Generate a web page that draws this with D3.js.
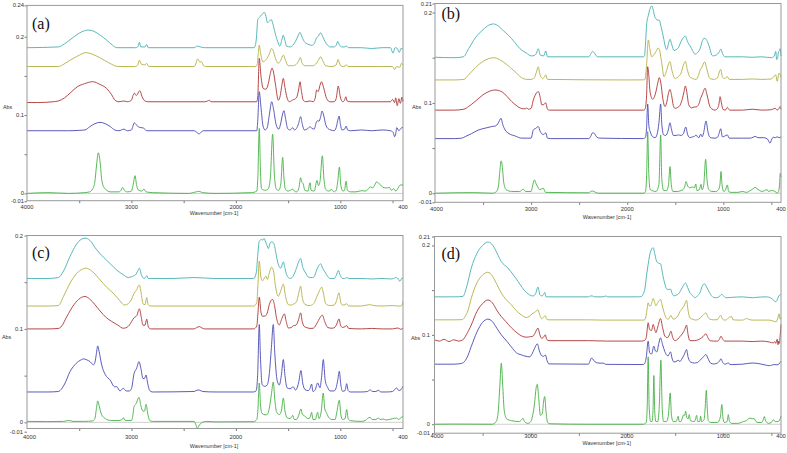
<!DOCTYPE html>
<html><head><meta charset="utf-8">
<script src="https://cdn.jsdelivr.net/npm/d3@7"></script>
<style>body{margin:0;background:#fff}svg{display:block}</style>
</head><body>
<svg id="c" width="787" height="453"></svg>
<script>
// ---------- data ----------
const panelNames = ['(a)','(b)','(c)','(d)'];
const wavenumberLabels = [4000,3000,2000,1000,400];
const wavenumberTicks = [3500,3000,2500,2000,1500,1000,500];
const yTickSets = [[-0.01,0,0.1,0.2,0.24],[-0.01,0,0.1,0.2,0.21],[-0.01,0,0.1,0.2],[-0.01,0,0.1,0.2,0.21]];
const yMinorTicks = [0.05,0.15];
const seriesNames = ['teal','olive','red','blue','green'];

const A_teal=[[4000,.186],[3700,.187],[3640,.191],[3560,.199],[3480,.206],[3415,.2085],[3360,.207],[3300,.202],[3240,.196],[3180,.189],[3140,.186],[2960,.186],[2935,.188],[2924,.193],[2910,.187],[2870,.187],[2854,.190],[2840,.186],[2400,.186],[2370,.188],[2340,.187],[2300,.186],[1825,.186],[1805,.196],[1790,.222],[1765,.226],[1740,.230],[1728,.231],[1712,.226],[1698,.218],[1678,.220],[1662,.222],[1645,.216],[1625,.205],[1600,.194],[1580,.188],[1560,.196],[1547,.202],[1532,.196],[1515,.188],[1480,.187],[1455,.189],[1430,.194],[1405,.201],[1387,.2056],[1365,.199],[1340,.193],[1300,.19],[1270,.189],[1250,.191],[1233,.197],[1210,.201],[1188,.205],[1168,.200],[1147,.194],[1120,.189],[1100,.187],[1060,.187],[1040,.189],[1025,.194],[1010,.190],[988,.187],[960,.187],[940,.188],[920,.186],[800,.186],[700,.185],[600,.186],[520,.186],[496,.179],[475,.186],[455,.185],[435,.18],[420,.185],[400,.184]];
const A_olive=[[4000,.162],[3700,.162],[3660,.164],[3600,.169],[3520,.175],[3435,.1797],[3380,.178],[3300,.173],[3220,.167],[3160,.163],[3130,.162],[2960,.162],[2940,.164],[2924,.170],[2905,.165],[2870,.164],[2854,.166],[2835,.162],[2400,.162],[2385,.165],[2366,.1716],[2345,.168],[2328,.168],[2310,.163],[2290,.162],[1810,.162],[1795,.165],[1785,.18],[1776,.1894],[1765,.18],[1740,.168],[1710,.171],[1680,.178],[1660,.185],[1645,.183],[1620,.172],[1595,.166],[1570,.170],[1546,.1766],[1525,.170],[1500,.163],[1460,.163],[1420,.165],[1400,.169],[1383,.1737],[1365,.166],[1340,.163],[1260,.163],[1230,.166],[1210,.170],[1188,.1745],[1170,.170],[1140,.163],[1080,.162],[1040,.164],[1022,.171],[1005,.165],[985,.162],[950,.163],[939,.164],[925,.162],[600,.162],[500,.162],[480,.158],[460,.162],[430,.161],[415,.166],[400,.164]];
const A_red=[[4000,.116],[3900,.116],[3750,.117],[3700,.118],[3640,.122],[3580,.129],[3520,.136],[3450,.140],[3371,.1426],[3300,.139],[3237,.134],[3190,.126],[3157,.119],[3120,.117],[3071,.118],[3040,.117],[3000,.119],[2985,.125],[2972,.128],[2955,.125],[2944,.126],[2930,.130],[2918,.131],[2900,.124],[2870,.118],[2840,.117],[2300,.117],[2270,.118],[2254,.119],[2240,.117],[1800,.117],[1790,.125],[1776,.1724],[1760,.150],[1738,.134],[1712,.133],[1690,.140],[1672,.152],[1654,.160],[1640,.155],[1620,.138],[1594,.119],[1575,.125],[1560,.138],[1546,.1469],[1530,.135],[1510,.122],[1488,.117],[1460,.119],[1420,.122],[1400,.132],[1386,.1425],[1372,.130],[1355,.119],[1330,.117],[1290,.118],[1260,.117],[1240,.122],[1227,.132],[1212,.130],[1195,.138],[1180,.1425],[1160,.135],[1131,.121],[1100,.117],[1060,.117],[1040,.121],[1020,.137],[1000,.123],[978,.117],[960,.119],[947,.1234],[935,.118],[900,.117],[600,.117],[520,.117],[500,.12],[480,.116],[470,.122],[455,.112],[440,.121],[425,.115],[410,.123],[400,.117]];
const A_blue=[[4000,.08],[3800,.08],[3600,.08],[3500,.0805],[3445,.081],[3400,.085],[3350,.089],[3301,.0907],[3250,.089],[3200,.085],[3160,.081],[3120,.08],[3071,.082],[3040,.08],[3000,.081],[2972,.090],[2955,.088],[2935,.085],[2910,.084],[2886,.0835],[2865,.081],[2850,.08],[2400,.08],[2370,.0775],[2353,.0758],[2335,.078],[2310,.08],[1800,.08],[1792,.09],[1776,.1298],[1760,.11],[1740,.086],[1720,.081],[1700,.084],[1680,.100],[1657,.117],[1640,.108],[1615,.088],[1590,.082],[1570,.090],[1555,.100],[1540,.1056],[1525,.096],[1505,.083],[1485,.081],[1470,.082],[1456,.084],[1440,.081],[1420,.083],[1400,.089],[1380,.098],[1365,.089],[1345,.081],[1320,.082],[1290,.085],[1270,.083],[1250,.082],[1232,.090],[1219,.0928],[1205,.092],[1190,.097],[1175,.1052],[1160,.100],[1140,.088],[1120,.083],[1090,.081],[1060,.08],[1040,.084],[1025,.093],[1012,.0988],[1000,.089],[985,.081],[960,.082],[945,.086],[930,.081],[900,.08],[800,.081],[700,.08],[600,.081],[520,.08],[495,.078],[480,.0724],[470,.076],[460,.084],[440,.08],[420,.083],[400,.0845]];
const A_green=[[4000,0],[3800,.001],[3600,0],[3450,.001],[3400,.002],[3370,.006],[3350,.015],[3335,.035],[3317,.0519],[3300,.040],[3285,.018],[3260,.007],[3200,.002],[3120,.002],[3100,.004],[3084,.0077],[3068,.004],[3040,.002],[3000,.003],[2985,.01],[2966,.0226],[2950,.01],[2930,.004],[2900,.003],[2880,.0055],[2860,.002],[2800,.001],[2450,0],[2380,.002],[2350,.0026],[2320,.001],[2200,0],[1850,.001],[1800,.003],[1790,.02],[1776,.083],[1765,.03],[1755,.006],[1720,.004],[1690,.006],[1670,.02],[1648,.0757],[1630,.02],[1610,.005],[1590,.004],[1570,.012],[1552,.046],[1540,.02],[1525,.005],[1500,.003],[1478,.004],[1456,.0055],[1440,.003],[1420,.002],[1398,.006],[1380,.02],[1370,.015],[1355,.012],[1340,.004],[1310,.003],[1290,.0136],[1280,.004],[1250,.003],[1223,.0166],[1210,.01],[1195,.015],[1172,.048],[1158,.02],[1140,.005],[1110,.003],[1083,.005],[1060,.002],[1040,.004],[1025,.015],[1009,.0336],[995,.01],[975,.003],[960,.004],[945,.0157],[932,.004],[900,.002],[850,.002],[796,.0035],[760,.003],[730,.006],[715,.0085],[690,.007],[670,.011],[652,.0149],[635,.013],[615,.011],[595,.008],[560,.007],[530,.0075],[510,.004],[490,.006],[470,.003],[450,.006],[428,.0106],[400,.011]];

const B_teal=[[4000,.1505],[3800,.150],[3705,.151],[3650,.160],[3580,.172],[3500,.181],[3440,.186],[3393,.1874],[3340,.185],[3290,.180],[3237,.175],[3170,.167],[3116,.160],[3046,.155],[3000,.152],[2965,.1525],[2945,.155],[2925,.160],[2905,.153],[2870,.152],[2848,.1575],[2830,.151],[2400,.151],[2375,.155],[2360,.157],[2340,.155],[2310,.151],[1830,.151],[1820,.152],[1810,.165],[1797,.188],[1780,.197],[1760,.205],[1745,.2073],[1730,.203],[1715,.196],[1700,.193],[1685,.1915],[1669,.1918],[1645,.183],[1624,.173],[1605,.163],[1589,.159],[1570,.166],[1555,.1704],[1535,.164],[1513,.158],[1490,.159],[1468,.161],[1440,.168],[1410,.173],[1395,.174],[1370,.167],[1346,.163],[1320,.158],[1294,.154],[1265,.156],[1242,.160],[1220,.168],[1201,.1715],[1185,.171],[1166,.168],[1140,.160],[1121,.153],[1105,.152],[1086,.1525],[1060,.154],[1040,.157],[1027,.1596],[1010,.155],[982,.151],[950,.151],[900,.151],[800,.151],[700,.1505],[600,.151],[500,.150],[470,.152],[455,.157],[445,.148],[438,.1485],[425,.157],[415,.158],[410,.16],[400,.152]];
const B_olive=[[4000,.1254],[3800,.1254],[3700,.126],[3650,.131],[3580,.139],[3500,.146],[3440,.149],[3393,.150],[3330,.148],[3260,.143],[3168,.1346],[3100,.128],[3046,.126],[3000,.126],[2965,.128],[2945,.134],[2925,.140],[2910,.132],[2880,.127],[2860,.129],[2848,.131],[2830,.126],[2000,.1254],[1830,.1255],[1815,.126],[1800,.140],[1780,.1697],[1765,.160],[1745,.151],[1725,.153],[1700,.157],[1680,.1605],[1669,.160],[1645,.147],[1617,.129],[1590,.136],[1570,.143],[1555,.1457],[1535,.136],[1502,.127],[1470,.129],[1440,.133],[1415,.142],[1395,.146],[1375,.137],[1350,.129],[1320,.127],[1284,.126],[1260,.130],[1242,.1363],[1225,.139],[1194,.1454],[1175,.139],[1150,.129],[1138,.127],[1100,.126],[1060,.128],[1045,.133],[1027,.137],[1010,.129],[990,.127],[958,.129],[940,.126],[800,.126],[700,.1265],[600,.126],[500,.1265],[455,.131],[440,.124],[420,.133],[400,.128]];
const B_red=[[4000,.092],[3800,.092],[3700,.093],[3650,.096],[3584,.1015],[3500,.109],[3430,.113],[3376,.1143],[3300,.112],[3202,.1015],[3140,.096],[3081,.0935],[3060,.0935],[3045,.0945],[3029,.093],[3000,.094],[2977,.1033],[2960,.108],[2925,.1125],[2905,.106],[2890,.098],[2870,.098],[2848,.1003],[2830,.093],[2810,.092],[1830,.092],[1815,.093],[1800,.105],[1787,.140],[1775,.13],[1762,.112],[1735,.104],[1720,.106],[1700,.113],[1680,.123],[1666,.128],[1650,.122],[1630,.105],[1607,.096],[1590,.100],[1572,.110],[1555,.115],[1538,.108],[1520,.097],[1502,.094],[1475,.095],[1450,.0975],[1425,.105],[1410,.112],[1395,.1187],[1380,.112],[1360,.098],[1330,.0945],[1300,.0955],[1284,.0955],[1265,.097],[1250,.1],[1242,.1033],[1220,.109],[1190,.1162],[1170,.109],[1140,.096],[1121,.0935],[1086,.092],[1060,.094],[1045,.099],[1034,.1069],[1020,.100],[1005,.093],[980,.092],[958,.095],[945,.093],[930,.092],[800,.092],[700,.093],[600,.092],[500,.0925],[460,.094],[440,.092],[420,.094],[410,.096],[400,.093]];
const B_blue=[[4000,.0605],[3800,.0605],[3722,.061],[3680,.063],[3620,.066],[3549,.070],[3480,.072],[3410,.0738],[3370,.0745],[3345,.077],[3313,.083],[3295,.076],[3270,.070],[3230,.066],[3168,.0635],[3100,.061],[3046,.061],[3000,.061],[2977,.070],[2950,.072],[2925,.0738],[2905,.0685],[2890,.066],[2870,.065],[2848,.067],[2830,.061],[2800,.0605],[2400,.0605],[2380,.063],[2360,.067],[2340,.066],[2320,.0625],[2290,.061],[1830,.0605],[1810,.062],[1800,.07],[1787,.0988],[1775,.075],[1760,.068],[1735,.0625],[1710,.0615],[1690,.065],[1670,.078],[1652,.0988],[1640,.076],[1620,.0645],[1600,.064],[1575,.069],[1555,.078],[1540,.071],[1520,.064],[1490,.064],[1468,.0646],[1440,.064],[1415,.066],[1391,.0733],[1370,.0645],[1345,.0615],[1320,.0625],[1300,.063],[1284,.0646],[1270,.0625],[1255,.0615],[1235,.0655],[1220,.0625],[1205,.067],[1180,.080],[1160,.068],[1140,.062],[1121,.0612],[1086,.061],[1060,.062],[1045,.066],[1027,.0714],[1010,.0625],[990,.063],[958,.0646],[940,.061],[900,.061],[800,.061],[720,.061],[690,.062],[670,.063],[640,.0615],[580,.0615],[540,.060],[530,.058],[514,.0555],[500,.059],[480,.062],[460,.0615],[440,.0625],[420,.0615],[400,.0625]];
const B_green=[[4000,0],[3800,.0005],[3600,.0007],[3400,0],[3360,.002],[3340,.008],[3325,.025],[3313,.0358],[3300,.03],[3285,.012],[3260,.004],[3200,.002],[3120,.002],[3081,.0045],[3060,.002],[3000,.002],[2985,.008],[2966,.0148],[2950,.011],[2935,.008],[2910,.004],[2873,.0055],[2850,.001],[2400,.0005],[2380,.002],[2360,.0025],[2330,.001],[2300,0],[1830,0],[1810,.002],[1798,.02],[1787,.0682],[1775,.02],[1760,.004],[1700,.002],[1670,.01],[1652,.0645],[1640,.015],[1620,.003],[1590,.003],[1570,.01],[1555,.0295],[1542,.01],[1525,.002],[1480,.002],[1440,.003],[1420,.004],[1400,.008],[1388,.0129],[1370,.008],[1350,.006],[1320,.007],[1300,.006],[1287,.0103],[1275,.003],[1250,.004],[1232,.0099],[1222,.004],[1205,.008],[1184,.0376],[1170,.015],[1150,.004],[1120,.002],[1080,.002],[1050,.004],[1035,.01],[1024,.024],[1012,.008],[995,.002],[980,.003],[958,.0092],[945,.002],[920,.001],[850,.001],[800,.002],[760,.001],[720,.003],[690,.005],[670,.0066],[650,.005],[620,.003],[600,.002],[570,.003],[545,.004],[530,.002],[500,.003],[460,.002],[440,0],[425,.002],[415,.01],[408,.022],[400,.018]];

const C_teal=[[4000,.154],[3800,.154],[3700,.155],[3650,.162],[3588,.1776],[3530,.190],[3480,.196],[3445,.1972],[3400,.195],[3333,.1847],[3270,.177],[3205,.170],[3140,.163],[3078,.158],[3030,.155],[2998,.156],[2960,.158],[2940,.162],[2924,.165],[2905,.158],[2880,.154],[2860,.156],[2854,.157],[2840,.154],[2600,.154],[2400,.155],[2200,.154],[1830,.154],[1805,.160],[1790,.180],[1776,.194],[1753,.1958],[1742,.195],[1731,.1969],[1715,.193],[1705,.1904],[1689,.186],[1672,.192],[1658,.1933],[1635,.191],[1615,.180],[1594,.169],[1570,.165],[1546,.1718],[1530,.165],[1514,.158],[1482,.154],[1455,.156],[1420,.165],[1395,.173],[1380,.1754],[1360,.166],[1338,.161],[1297,.155],[1265,.155],[1250,.156],[1227,.163],[1205,.168],[1188,.1697],[1170,.165],[1147,.161],[1120,.156],[1099,.154],[1060,.154],[1040,.157],[1019,.1626],[1000,.157],[978,.154],[960,.154],[939,.155],[920,.154],[800,.154],[700,.1535],[600,.154],[520,.1535],[490,.154],[470,.155],[455,.1545],[429,.151],[410,.1545],[400,.154]];
const C_olive=[[4000,.1245],[3800,.1245],[3700,.125],[3650,.135],[3588,.149],[3520,.160],[3470,.164],[3435,.165],[3380,.162],[3301,.1526],[3240,.145],[3173,.138],[3110,.130],[3078,.126],[3071,.1255],[3050,.126],[3020,.128],[2998,.132],[2975,.138],[2950,.142],[2924,.147],[2905,.137],[2890,.127],[2870,.126],[2854,.1336],[2840,.126],[2820,.1245],[1830,.1245],[1800,.128],[1790,.145],[1776,.1726],[1760,.155],[1745,.1515],[1735,.153],[1712,.1565],[1698,.153],[1680,.160],[1658,.166],[1640,.162],[1620,.145],[1594,.135],[1570,.141],[1546,.148],[1525,.135],[1498,.126],[1470,.1255],[1450,.1265],[1420,.129],[1395,.140],[1380,.1458],[1365,.134],[1340,.1265],[1300,.125],[1275,.1255],[1250,.128],[1227,.134],[1200,.141],[1179,.1447],[1165,.140],[1140,.127],[1100,.125],[1060,.1255],[1040,.129],[1013,.1386],[995,.128],[978,.1255],[955,.126],[939,.127],[920,.1245],[800,.1245],[720,.126],[680,.125],[600,.1245],[500,.125],[450,.1245],[420,.1245],[405,.127],[400,.129]];
const C_red=[[4000,.100],[3800,.100],[3700,.1005],[3668,.103],[3620,.113],[3550,.126],[3490,.133],[3445,.1347],[3400,.132],[3350,.126],[3301,.1193],[3240,.112],[3189,.108],[3130,.104],[3078,.1007],[3040,.102],[3020,.104],[2998,.108],[2975,.112],[2950,.114],[2924,.1215],[2905,.112],[2890,.104],[2870,.104],[2854,.1104],[2840,.103],[2820,.1],[2400,.1],[2375,.1015],[2350,.1025],[2325,.101],[2300,.1],[1830,.1],[1800,.103],[1790,.115],[1776,.134],[1760,.118],[1745,.1135],[1720,.1138],[1700,.117],[1680,.126],[1660,.131],[1648,.1315],[1630,.125],[1610,.111],[1584,.1043],[1560,.111],[1536,.1161],[1518,.108],[1498,.101],[1470,.1015],[1450,.1035],[1425,.104],[1400,.110],[1380,.1172],[1365,.108],[1345,.1025],[1310,.101],[1290,.1005],[1260,.1007],[1240,.103],[1220,.1068],[1200,.111],[1172,.1147],[1150,.108],[1120,.1015],[1080,.1007],[1050,.102],[1035,.105],[1013,.1107],[995,.103],[978,.1015],[955,.1025],[939,.1035],[920,.1005],[800,.1],[700,.1005],[600,.1],[500,.1],[450,.101],[420,.0995],[400,.101]];
const C_blue=[[4000,.0325],[3800,.0325],[3700,.033],[3684,.034],[3640,.041],[3588,.0543],[3530,.063],[3480,.067],[3461,.0679],[3430,.067],[3397,.065],[3380,.063],[3365,.0615],[3350,.064],[3335,.074],[3323,.0818],[3310,.076],[3285,.0615],[3250,.051],[3205,.0454],[3160,.038],[3141,.0382],[3110,.0336],[3078,.0364],[3050,.0336],[3020,.0336],[3000,.036],[2975,.0522],[2950,.058],[2928,.065],[2910,.058],[2890,.047],[2875,.047],[2860,.0507],[2845,.042],[2825,.034],[2800,.0325],[2400,.033],[2370,.0345],[2350,.0345],[2320,.033],[2200,.0325],[1830,.0325],[1805,.034],[1792,.05],[1776,.1047],[1765,.07],[1748,.0402],[1720,.0385],[1700,.040],[1680,.052],[1660,.08],[1642,.1047],[1628,.075],[1605,.045],[1584,.040],[1565,.050],[1546,.0672],[1530,.050],[1510,.037],[1482,.036],[1460,.0375],[1450,.038],[1430,.0345],[1400,.042],[1377,.0554],[1360,.042],[1338,.035],[1310,.034],[1290,.036],[1275,.041],[1262,.033],[1240,.035],[1217,.0422],[1195,.037],[1180,.048],[1163,.0672],[1145,.045],[1120,.037],[1099,.0336],[1060,.0336],[1040,.037],[1025,.045],[1010,.0547],[995,.040],[978,.0332],[955,.034],[939,.0414],[925,.034],[905,.0325],[800,.0325],[740,.033],[716,.0347],[690,.033],[660,.033],[636,.0343],[610,.0325],[560,.0325],[500,.033],[461,.0368],[440,.034],[420,.035],[400,.0386]];
const C_green=[[4000,.001],[3800,.0008],[3650,.001],[3600,.002],[3560,.001],[3450,.001],[3370,.0015],[3350,.004],[3335,.015],[3323,.0229],[3310,.018],[3285,.008],[3250,.004],[3200,.002],[3120,.002],[3090,.003],[3078,.005],[3060,.002],[3000,.002],[2990,.005],[2975,.0168],[2955,.020],[2928,.0268],[2910,.018],[2890,.012],[2875,.012],[2860,.0193],[2845,.010],[2825,.002],[2800,.001],[2400,.001],[2385,-.002],[2369,-.0064],[2355,-.004],[2340,-.0015],[2320,0],[2280,.001],[2200,.0005],[1830,.0007],[1800,.003],[1790,.012],[1776,.042],[1765,.02],[1750,.0096],[1720,.008],[1700,.0085],[1680,.015],[1660,.03],[1642,.0432],[1628,.025],[1610,.011],[1584,.0083],[1565,.012],[1546,.026],[1530,.012],[1510,.005],[1482,.004],[1465,.006],[1456,.0075],[1440,.003],[1420,.003],[1400,.007],[1377,.0143],[1365,.009],[1338,.0064],[1310,.004],[1290,.005],[1275,.0107],[1262,.003],[1240,.003],[1217,.0107],[1205,.004],[1185,.01],[1163,.0314],[1150,.015],[1130,.0096],[1110,.005],[1080,.003],[1050,.003],[1035,.01],[1010,.0236],[995,.008],[978,.003],[955,.004],[939,.0136],[925,.004],[905,.0018],[800,.001],[760,.002],[740,.004],[716,.0054],[695,.003],[660,.003],[636,.0046],[620,.003],[590,.0035],[560,.0025],[500,.004],[461,.0046],[440,.003],[420,.005],[400,.0064]];

const D_teal=[[4000,.1425],[3800,.1425],[3705,.143],[3670,.152],[3618,.1747],[3560,.191],[3500,.200],[3445,.2038],[3410,.202],[3376,.197],[3340,.189],[3306,.182],[3237,.1747],[3180,.167],[3133,.160],[3090,.153],[3046,.1475],[2977,.1435],[2950,.146],[2925,.1534],[2905,.145],[2885,.1435],[2867,.145],[2855,.1474],[2840,.1425],[2400,.1425],[2380,.1435],[2360,.1435],[2340,.1425],[2250,.1425],[2220,.1435],[2200,.1425],[1880,.1425],[1849,.143],[1830,.146],[1815,.151],[1795,.168],[1780,.179],[1756,.193],[1728,.1975],[1710,.190],[1693,.1825],[1670,.180],[1652,.1795],[1630,.168],[1607,.157],[1585,.151],[1572,.1508],[1560,.151],[1548,.1512],[1530,.146],[1513,.1435],[1490,.1445],[1468,.1455],[1440,.150],[1415,.155],[1391,.158],[1370,.153],[1346,.147],[1320,.144],[1294,.1415],[1265,.144],[1242,.147],[1220,.154],[1197,.1571],[1178,.1545],[1156,.150],[1130,.145],[1104,.142],[1070,.1415],[1040,.143],[1017,.1452],[995,.1435],[975,.1415],[900,.142],[800,.1425],[700,.1415],[650,.142],[560,.1425],[520,.142],[490,.140],[470,.138],[455,.137],[440,.139],[430,.142],[415,.1445],[400,.1455]];
const D_olive=[[4000,.1168],[3800,.1168],[3710,.117],[3688,.1195],[3650,.128],[3618,.141],[3560,.158],[3500,.167],[3445,.170],[3400,.166],[3350,.156],[3306,.1467],[3260,.140],[3202,.1336],[3150,.127],[3098,.1224],[3046,.1194],[3018,.1205],[3000,.122],[2985,.1235],[2960,.125],[2925,.128],[2905,.122],[2885,.118],[2870,.1195],[2848,.1213],[2835,.1175],[2810,.1168],[2400,.1168],[2250,.1165],[1830,.1165],[1815,.117],[1804,.120],[1790,.130],[1780,.1359],[1765,.132],[1750,.1332],[1728,.1407],[1712,.136],[1700,.1325],[1680,.136],[1652,.1396],[1630,.131],[1607,.1224],[1585,.118],[1572,.1175],[1560,.119],[1544,.1217],[1525,.118],[1513,.1175],[1490,.119],[1468,.1217],[1450,.126],[1433,.1285],[1409,.132],[1381,.1385],[1365,.127],[1346,.119],[1320,.1175],[1285,.1165],[1250,.118],[1210,.122],[1180,.1247],[1160,.120],[1138,.1175],[1100,.1168],[1060,.117],[1045,.1195],[1027,.122],[1010,.118],[985,.1165],[965,.117],[946,.119],[928,.12],[913,.1205],[900,.117],[850,.1165],[800,.1165],[757,.1183],[740,.1175],[700,.1165],[600,.1165],[520,.1165],[470,.115],[450,.1145],[430,.12],[420,.1235],[410,.1175],[400,.1195]];
const D_red=[[4000,.0945],[3950,.093],[3900,.095],[3850,.0925],[3800,.0945],[3750,.093],[3705,.0945],[3670,.100],[3618,.111],[3560,.126],[3500,.135],[3445,.139],[3400,.136],[3350,.127],[3306,.1205],[3260,.115],[3202,.108],[3140,.102],[3100,.099],[3046,.0974],[3000,.098],[2977,.0985],[2960,.101],[2925,.1075],[2905,.100],[2885,.096],[2870,.097],[2848,.100],[2835,.095],[2810,.0935],[2400,.0935],[2200,.093],[1850,.093],[1815,.094],[1800,.097],[1780,.1135],[1765,.106],[1745,.105],[1728,.1116],[1712,.106],[1700,.1025],[1680,.109],[1652,.1183],[1630,.108],[1607,.0986],[1585,.097],[1572,.0975],[1560,.100],[1544,.1041],[1525,.097],[1500,.0935],[1470,.0955],[1450,.098],[1420,.102],[1400,.106],[1381,.1109],[1365,.100],[1346,.0935],[1300,.0935],[1250,.095],[1210,.098],[1180,.1012],[1160,.097],[1138,.0935],[1100,.093],[1060,.093],[1040,.095],[1024,.0985],[1005,.095],[985,.093],[900,.093],[800,.093],[700,.0925],[600,.093],[520,.092],[480,.091],[465,.0925],[455,.0905],[440,.095],[430,.089],[425,.093],[417,.0905],[408,.1],[400,.1116]];
const D_blue=[[4000,.0672],[3800,.0672],[3722,.068],[3700,.069],[3660,.075],[3618,.087],[3560,.103],[3500,.114],[3445,.1176],[3400,.115],[3350,.107],[3306,.100],[3250,.093],[3202,.0866],[3150,.080],[3098,.0776],[3050,.076],[3011,.0754],[2990,.078],[2960,.085],[2932,.090],[2910,.082],[2885,.0765],[2865,.076],[2848,.0776],[2830,.071],[2810,.0675],[2400,.0672],[2390,.069],[2370,.074],[2355,.073],[2335,.070],[2300,.0685],[2266,.0683],[2250,.0685],[2220,.067],[1830,.0668],[1812,.069],[1800,.075],[1780,.093],[1765,.080],[1745,.0785],[1721,.0873],[1705,.082],[1690,.081],[1670,.090],[1652,.0967],[1630,.089],[1607,.0814],[1585,.077],[1572,.0765],[1560,.079],[1548,.081],[1530,.073],[1513,.0697],[1490,.0702],[1468,.0716],[1450,.0702],[1430,.073],[1405,.078],[1381,.0836],[1365,.075],[1340,.0697],[1300,.0685],[1270,.069],[1240,.0717],[1210,.075],[1180,.078],[1160,.074],[1133,.0685],[1100,.0674],[1060,.0685],[1040,.0705],[1024,.0732],[1005,.069],[980,.0672],[960,.068],[947,.0687],[930,.0668],[900,.0668],[800,.0672],[700,.0685],[640,.068],[560,.0662],[520,.0655],[500,.066],[470,.0668],[440,.0665],[420,.0675],[400,.0705]];
const D_green=[[4000,0],[3800,.0002],[3400,0],[3360,.003],[3340,.012],[3320,.045],[3306,.0683],[3292,.045],[3275,.015],[3250,.006],[3200,.004],[3120,.003],[3095,.005],[3081,.0067],[3065,.003],[3030,.001],[3000,.003],[2980,.01],[2960,.024],[2945,.04],[2932,.0448],[2918,.03],[2900,.01],[2880,.012],[2867,.025],[2855,.031],[2842,.015],[2825,.002],[2800,.0005],[2400,0],[1830,0],[1800,.002],[1790,.02],[1780,.0754],[1770,.02],[1755,.003],[1740,.003],[1730,.015],[1721,.0545],[1712,.015],[1700,.003],[1680,.003],[1665,.02],[1648,.0717],[1635,.02],[1620,.003],[1590,.003],[1570,.01],[1551,.035],[1538,.01],[1520,.003],[1490,.003],[1478,.006],[1468,.009],[1458,.003],[1440,.003],[1425,.007],[1409,.0108],[1400,.01],[1391,.0146],[1380,.008],[1365,.006],[1353,.0108],[1340,.004],[1300,.003],[1287,.006],[1277,.01],[1265,.003],[1245,.003],[1235,.009],[1225,.003],[1200,.005],[1188,.018],[1176,.038],[1166,.018],[1155,.004],[1130,.002],[1060,.002],[1030,.008],[1015,.022],[1003,.007],[990,.002],[960,.003],[947,.0108],[935,.003],[910,.001],[850,.001],[791,.003],[760,.004],[740,.006],[722,.007],[700,.006],[680,.0065],[660,.003],[640,.002],[600,.002],[585,.005],[573,.0086],[560,.004],[530,.001],[500,.002],[479,.005],[460,.003],[430,.003],[415,.0045],[400,.009]];

const panelSeries = [
  [A_teal,A_olive,A_red,A_blue,A_green],
  [B_teal,B_olive,B_red,B_blue,B_green],
  [C_teal,C_olive,C_red,C_blue,C_green],
  [D_teal,D_olive,D_red,D_blue,D_green]
];

// ---------- layout & style ----------
const layout = [
  {x:[27,403],    y:[200.7,5.4],   yd:[-0.0093,0.24], tickY:209,   titleY:214.5, absX:3,   absY:109, tagX:32,    tagY:28.5, firstShift:0,   yLabGap:3},
  {x:[435,781],   y:[202.3,3.5],   yd:[-0.01,0.21],   tickY:210.5, titleY:219,   absX:412, absY:109, tagX:441.5, tagY:19,   firstShift:1.5, yLabGap:3},
  {x:[27,403],    y:[428.5,235.5], yd:[-0.0066,0.2],  tickY:438.5, titleY:447.5, absX:2,   absY:339, tagX:32,    tagY:258,  firstShift:2.5, yLabGap:4},
  {x:[434.5,781], y:[433.2,236.5], yd:[-0.01,0.21],   tickY:437.5, titleY:445,   absX:411, absY:340, tagX:441.5, tagY:259,  firstShift:2.5, yLabGap:4.5}
];
const colors = {teal:'#45b0b3', olive:'#b3b044', red:'#ad3434', blue:'#4848b3', green:'#45b045'};
const smallFont = 'Liberation Sans, Arial, sans-serif';

const svg = d3.select('#c');

layout.forEach((L, pi) => {
  const x = d3.scaleLinear().domain([4000,400]).range(L.x);
  const y = d3.scaleLinear().domain(L.yd).range(L.y);
  const g = svg.append('g');

  // zero line
  g.append('line').attr('x1',L.x[0]).attr('x2',L.x[1]).attr('y1',y(0)).attr('y2',y(0))
    .attr('stroke','#cfcfcf').attr('stroke-width',1);

  // traces
  const line = d3.line().x(d=>x(d[0])).y(d=>y(d[1])).curve(d3.curveMonotoneX);
  panelSeries[pi].forEach((s, si) => {
    const data = s.slice().sort((a,b)=>b[0]-a[0]);
    g.append('path').datum(data).attr('d', line).attr('fill','none')
      .attr('stroke', colors[seriesNames[si]]).attr('stroke-width',0.9).attr('stroke-linejoin','round');
  });

  // x ticks
  const xa = g.append('g').attr('transform',`translate(0,${L.y[0]})`)
    .call(d3.axisBottom(x).tickValues(wavenumberTicks).tickSize(2.5).tickFormat(''));
  xa.select('.domain').remove();
  xa.selectAll('line').attr('stroke','#777');

  // y ticks
  const ya = g.append('g').attr('transform',`translate(${L.x[0]},0)`)
    .call(d3.axisLeft(y).tickValues(yTickSets[pi].concat(yMinorTicks)).tickSize(2.5).tickFormat(''));
  ya.select('.domain').remove();
  ya.selectAll('line').attr('stroke','#777');

  // frame
  g.append('rect').attr('x',L.x[0]).attr('y',L.y[1]).attr('width',L.x[1]-L.x[0]).attr('height',L.y[0]-L.y[1])
    .attr('fill','none').attr('stroke','#999').attr('stroke-width',1);

  // x labels
  g.selectAll('text.xl').data(wavenumberLabels).join('text').attr('class','xl')
    .attr('x',(d,i)=>x(d) + (i===0 ? L.firstShift : 0)).attr('y',L.tickY).attr('text-anchor','middle')
    .attr('font-family',smallFont).attr('font-size',5.8).attr('fill','#333').text(d=>d);
  // y labels
  g.selectAll('text.yl').data(yTickSets[pi]).join('text').attr('class','yl')
    .attr('x',L.x[0]-L.yLabGap).attr('y',d=>y(d)+2).attr('text-anchor','end')
    .attr('font-family',smallFont).attr('font-size',5.8).attr('fill','#333').text(d=>String(d));

  // axis titles
  g.append('text').attr('x',(L.x[0]+L.x[1])/2 - 1).attr('y',L.titleY).attr('text-anchor','middle')
    .attr('font-family',smallFont).attr('font-size',5.4).attr('fill','#333').text('Wavenumber [cm-1]');
  g.append('text').attr('x',L.absX).attr('y',L.absY)
    .attr('font-family',smallFont).attr('font-size',5.4).attr('fill','#333').text('Abs');

  // panel tag
  g.append('text').attr('x',L.tagX).attr('y',L.tagY)
    .attr('font-family','Liberation Serif, Times New Roman, serif').attr('font-size',16).attr('fill','#111')
    .text(panelNames[pi]);
});
</script>
</body></html>
